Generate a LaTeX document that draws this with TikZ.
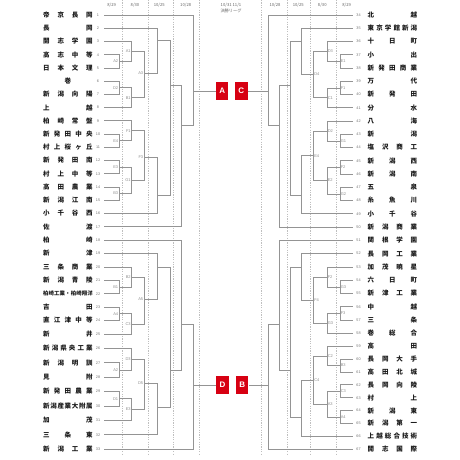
\documentclass[tikz,border=0pt]{standalone}
\usepackage{fontspec}
\newfontfamily\jp{Noto Sans CJK JP}
\newfontfamily\lat{Liberation Sans}
\definecolor{boxred}{RGB}{215,0,18}

\newlength{\namew}
\setlength{\namew}{49.5pt}
\def\spreadchars#1#2\endspread{#1\if\relax\detokenize{#2}\relax\else\hfill\spreadchars#2\endspread\fi}
\newcommand{\spreadname}[1]{\hbox to \namew{\expandafter\spreadchars#1\endspread}}

\begin{document}
\begin{tikzpicture}[x=1pt, y=-1pt,
	tname/.style={anchor=west, inner sep=0pt, text=black!90, font=\jp\bfseries\fontsize{6.5}{6.5}\selectfont},
	tnum/.style={inner sep=0pt, text=black!55, font=\lat\fontsize{3.8}{3.8}\selectfont},
	mlabel/.style={inner sep=0.6pt, text=black!45, font=\lat\fontsize{4}{4}\selectfont},
	dayl/.style={inner sep=0pt, text=black!60, font=\jp\fontsize{4.2}{4.2}\selectfont},
	bline/.style={draw=black!42, line width=0.65pt},
	gridl/.style={draw=black!25, line width=0.4pt, dash pattern=on 1.2pt off 1.2pt},
	blockbox/.style={fill=boxred, minimum width=12.5pt, minimum height=17.5pt, inner sep=0pt, text=white, font=\lat\bfseries\fontsize{8}{8}\selectfont}]
	\useasboundingbox (0,0) rectangle (460,460);

	\foreach \x in {122.5,148,173.5,199.5,261.5,287,310.5,336}
		\draw[gridl] (\x,0) -- (\x,455);
	\foreach \x/\d in {111.7/8\slash29, 135/8\slash30, 159.3/10\slash25, 185.7/10\slash28, 275/10\slash28, 298.3/10\slash25, 322.3/8\slash30, 346.7/8\slash29}
		\node[dayl] at (\x,5) {\d};
	\node[dayl] (final) at (231,4.8) {10/31 11/1};
	\node[dayl] (league) at (231,11) {決勝リーグ};

	% left teams
	\foreach \n/\y/\t in {1/15/帝京長岡, 2/28.2/長岡, 3/41.5/開志学園, 4/54.7/高志中等, 5/67.9/日本文理, 6/81.2/\hfil 巻\hfil, 7/94.4/新潟向陽, 8/107.6/上越, 9/120.8/柏崎常盤, 10/134.1/新発田中央, 11/147.3/村上桜ヶ丘, 12/160.5/新発田南, 13/173.8/村上中等, 14/187/高田農業, 15/200.2/新潟江南, 16/213.5/小千谷西, 17/226.7/佐渡, 18/240.1/柏崎, 19/253.5/新津, 20/266.9/三条商業, 21/280.3/新潟青陵, 23/307.1/吉田, 24/320.5/直江津中等, 25/333.9/新井, 26/348.3/新潟県央工業, 27/362.7/新潟明訓, 28/377.1/見附, 29/391.5/新発田農業, 30/405.9/新潟産業大附属, 31/420.3/加茂, 32/434.7/三条東, 33/449.1/新潟工業}
	{
		\node[tname] (t\n) at (43,\y) {\spreadname{\t}};
		\node[tnum] (n\n) at (98,\y) {\n};
		\coordinate (e\n) at (104,\y);
	}
	\node[tname, font=\jp\bfseries\fontsize{5.4}{5.4}\selectfont] (t22) at (43,293.7) {\spreadname{柏崎工業・柏崎翔洋}};
	\node[tnum] (n22) at (98,293.7) {22};
	\coordinate (e22) at (104,293.7);

	% right teams
	\foreach \n/\y/\t in {34/15/北越, 35/28.25/東京学館新潟, 36/41.5/十日町, 37/54.75/小出, 38/68/新発田商業, 39/81.25/万代, 40/94.5/新発田, 41/107.75/分水, 42/121/八海, 43/134.25/新潟, 44/147.5/塩沢商工, 45/160.75/新潟西, 46/174/新潟南, 47/187.25/五泉, 48/200.5/糸魚川, 49/213.75/小千谷, 50/227/新潟商業, 51/240.3/関根学園, 52/253.6/長岡工業, 53/266.9/加茂暁星, 54/280.2/六日町, 55/293.5/新津工業, 56/306.8/中越, 57/320.1/三条, 58/333.4/巻総合, 59/346.3/高田, 60/359.1/長岡大手, 61/372/高田北城, 62/384.8/長岡向陵, 63/397.7/村上, 64/410.6/新潟東, 65/423.4/新潟第一, 66/436.3/上越総合技術, 67/449.1/開志国際}
	{
		\node[tname] (t\n) at (367.5,\y) {\spreadname{\t}};
		\node[tnum] (n\n) at (358.5,\y) {\n};
		\coordinate (e\n) at (352.5,\y);
	}

	% match points
	\foreach \j/\x/\y/\l in {lA2/119/61.3/A2, lA1/131.5/51.4/A1, lD2/119/87.8/D2, lB1/131.5/97.7/B1, lA3/144/73.5/A3, lE4/119/140.7/E4, lF1/131.5/130.8/F1, lE3/119/167.2/E3, lB3/119/193.6/B3, lG1/131.5/180.4/G1, lF3/144/157/F3, lB1b/119/287/B1, lB2/131.5/277/B2, lA4/119/313.8/A4, lC3/131.5/323.9/C3, lA5/144/299/A5, lA2b/119/369.9/A2, lD3/131.5/359.1/D3, lD1/119/398.7/D1, lE3b/131.5/409.5/E3, lD5/144/383/D5}
	{
		\coordinate (\j) at (\x,\y);
		\node[mlabel, anchor=east] (m\j) at (\j) {\l};
	}
	\foreach \j/\x/\y/\l in {rE1/340/61.4/E1, rD3/327/51.5/D3, rF1/340/87.9/F1, rC1/327/97.8/C1, rD4/313.5/74.6/D4, rG1/340/140.9/G1, rD2/327/131/D2, rF2/340/167.4/F2, rG2/340/193.9/G2, rE2/327/180.6/E2, rE4/313.5/155.8/E4, rG3/340/286.9/G3, rF2b/327/276.9/F2, rF3/340/313.5/F3, rG3b/327/323.4/G3, rF4/313.5/300.2/F4, rB3/340/365.6/B3, rC2/327/355.9/C2, rC3/340/391.3/C3, rA4/340/417/A4, rA3/327/404.1/A3, rC4/313.5/380/C4}
	{
		\coordinate (\j) at (\x,\y);
		\node[mlabel, anchor=west] (m\j) at (\j) {\l};
	}
	\foreach \j/\x/\y in {lk2/157/40, lk16/157/195, l5a/170/85, l6a/181.5/125, l7a/193.5/91, lk19/157/267.7, lk32/157/407.7, l5b/170/370, l6b/181.5/324.3, l7b/193.5/385, rk35/301/41.7, rk49/301/195, r5a/290/85, r6a/279/125, r7a/268/91, rk52/301/267.7, rk66/301/417.7, r5b/290/370, r6b/279/324.3, r7b/268/385}
		\coordinate (\j) at (\x,\y);

	\node[blockbox] (A) at (222.2,91) {A};
	\node[blockbox] (C) at (241.3,91) {C};
	\node[blockbox] (D) at (222.6,385) {D};
	\node[blockbox] (B) at (242.2,385) {B};

	% brackets
	\foreach \a/\b in {e4/lA2, e5/lA2, e3/lA1, lA2/lA1, e6/lD2, e7/lD2, lD2/lB1, e8/lB1, lA1/lA3, lB1/lA3, e2/lk2, lA3/lk2, e10/lE4, e11/lE4, e9/lF1, lE4/lF1, e12/lE3, e13/lE3, e14/lB3, e15/lB3, lE3/lG1, lB3/lG1, lF1/lF3, lG1/lF3, lF3/lk16, e16/lk16, lk2/l5a, lk16/l5a, l5a/l6a, e17/l6a, e1/l7a, l6a/l7a,
		e21/lB1b, e22/lB1b, e20/lB2, lB1b/lB2, e23/lA4, e24/lA4, lA4/lC3, e25/lC3, lB2/lA5, lC3/lA5, e19/lk19, lA5/lk19, e27/lA2b, e28/lA2b, e26/lD3, lA2b/lD3, e29/lD1, e30/lD1, lD1/lE3b, e31/lE3b, lD3/lD5, lE3b/lD5, lD5/lk32, e32/lk32, lk19/l5b, lk32/l5b, e18/l6b, l5b/l6b, l6b/l7b, e33/l7b,
		e37/rE1, e38/rE1, e36/rD3, rE1/rD3, e39/rF1, e40/rF1, rF1/rC1, e41/rC1, rD3/rD4, rC1/rD4, e35/rk35, rD4/rk35, e43/rG1, e44/rG1, e42/rD2, rG1/rD2, e45/rF2, e46/rF2, e47/rG2, e48/rG2, rF2/rE2, rG2/rE2, rD2/rE4, rE2/rE4, rE4/rk49, e49/rk49, rk35/r5a, rk49/r5a, r5a/r6a, e50/r6a, e34/r7a, r6a/r7a,
		e54/rG3, e55/rG3, e53/rF2b, rG3/rF2b, e56/rF3, e57/rF3, rF3/rG3b, e58/rG3b, rF2b/rF4, rG3b/rF4, e52/rk52, rF4/rk52, e60/rB3, e61/rB3, e59/rC2, rB3/rC2, e62/rC3, e63/rC3, e64/rA4, e65/rA4, rC3/rA3, rA4/rA3, rC2/rC4, rA3/rC4, rC4/rk66, e66/rk66, rk52/r5b, rk66/r5b, e51/r6b, r5b/r6b, r6b/r7b, e67/r7b}
		\draw[bline] (\a) -| (\b);
	\draw[bline] (l7a) -- (A);
	\draw[bline] (l7b) -- (D);
	\draw[bline] (r7a) -- (C);
	\draw[bline] (r7b) -- (B);
\end{tikzpicture}
\end{document}
